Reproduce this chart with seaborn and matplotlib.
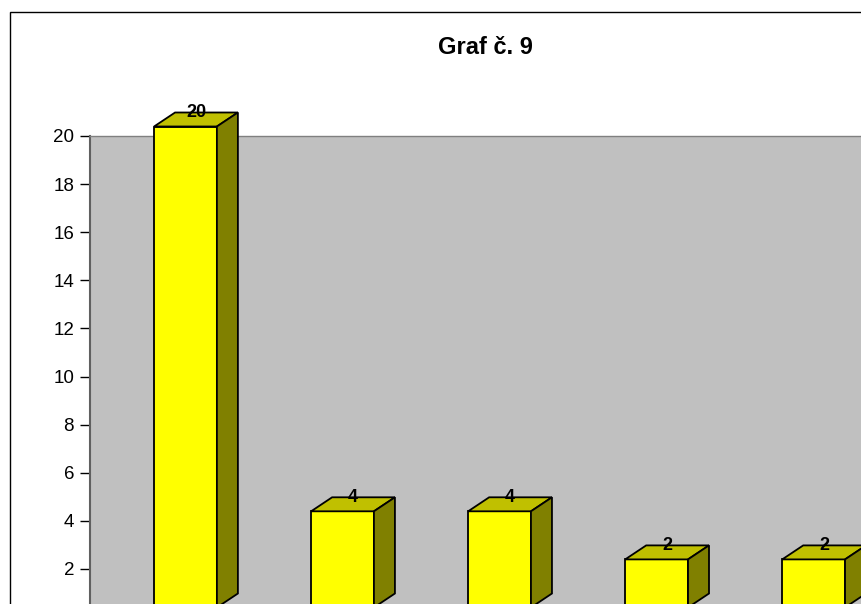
import matplotlib
matplotlib.use('Agg')
import matplotlib.pyplot as plt
import matplotlib.transforms as mtransforms
from matplotlib.patches import Polygon, Rectangle
import seaborn as sns
import pandas as pd

# data
kategorie = ['1', '2', '3', '4', '5']
hodnoty = [20, 4, 4, 2, 2]
titulek = 'Graf č. 9'

sns.set_style('white')
plt.rcParams['font.family'] = ['Liberation Sans', 'DejaVu Sans']
plt.rcParams['text.color'] = 'black'
plt.rcParams['ytick.color'] = 'black'
plt.rcParams['ytick.labelcolor'] = 'black'

W, H = 861, 604
fig = plt.figure(figsize=(W / 100, H / 100), dpi=100)

# ramecek celeho grafu (pravy a spodni okraj jsou mimo obrazek)
fig.patches.append(Rectangle((10 / W, -0.1), 1.0, 1 - 12 / H + 0.1,
                             transform=fig.transFigure, fill=False,
                             edgecolor='black', lw=1))

# zadni stena grafu
ax = fig.add_axes([90 / W, -13 / H, 810 / W, 481 / H])
df = pd.DataFrame({'kategorie': kategorie, 'hodnota': hodnoty})
sns.barplot(data=df, x='kategorie', y='hodnota', color='#FFFF00',
            saturation=1, width=0.4, edgecolor='black', linewidth=1.3,
            errorbar=None, ax=ax)

ax.set_xlim(-0.608, 4.55)
ax.set_ylim(0, 20)
ax.set_facecolor('#C0C0C0')
ax.set_yticks(range(2, 21, 2))
ax.set_xticks([])
ax.set_xlabel('')
ax.set_ylabel('')
for s in ['right', 'bottom']:
    ax.spines[s].set_visible(False)
ax.spines['left'].set_color('#606060')
ax.spines['top'].set_color('#808080')
ax.spines['left'].set_linewidth(1.5)
ax.spines['top'].set_linewidth(1)
ax.tick_params(axis='y', left=True, length=7, width=1, color='black',
               pad=4.5, labelsize=13.5, direction='out')

# 3D efekt - predni strana je posunuta, hloubka doprava nahoru
front = ax.transData + mtransforms.ScaledTranslation(0, 9.5 / 100, fig.dpi_scale_trans)
p0 = ax.transData.transform([[0, 0], [1, 1]])
ddx = 21 / (p0[1, 0] - p0[0, 0])
ddy = 14 / (p0[1, 1] - p0[0, 1])

for p in list(ax.patches):
    p.set_transform(front)
    p.set_clip_on(False)
    p.set_zorder(3)
    x0, w, h = p.get_x(), p.get_width(), p.get_height()
    top = Polygon([(x0, h), (x0 + w, h), (x0 + w + ddx, h + ddy), (x0 + ddx, h + ddy)],
                  closed=True, facecolor='#C0C000', edgecolor='black', lw=1.3,
                  transform=front, clip_on=False, zorder=3)
    side = Polygon([(x0 + w, 0), (x0 + w + ddx, ddy), (x0 + w + ddx, h + ddy), (x0 + w, h)],
                   closed=True, facecolor='#808000', edgecolor='black', lw=1.3,
                   transform=front, clip_on=False, zorder=3)
    ax.add_patch(top)
    ax.add_patch(side)
    ax.annotate(f'{h:g}', xy=(x0 + w / 2, h), xycoords=front,
                xytext=(10.5 * 0.72, 14 * 0.72), textcoords='offset points',
                ha='center', va='center', fontsize=13, fontweight='bold',
                zorder=4, annotation_clip=False)

fig.text(485 / W, 1 - 48 / H, titulek, ha='center', va='center',
         fontsize=17, fontweight='bold')

fig.savefig('out.png', dpi=100)
